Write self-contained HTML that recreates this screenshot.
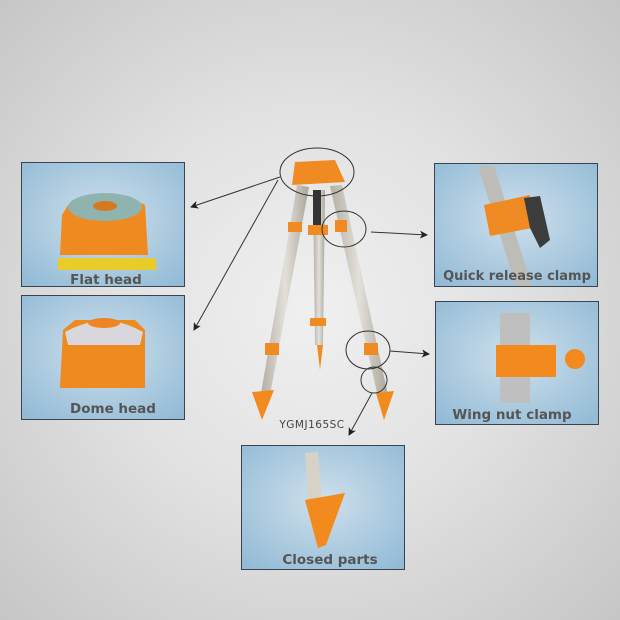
<!DOCTYPE html>
<html><head><style>
html,body{margin:0;padding:0;}
body{width:620px;height:620px;overflow:hidden;background:radial-gradient(ellipse at 50% 50%,#f0f0f0 0%,#e2e2e2 45%,#c6c6c6 100%);}
svg{display:block}
text{font-family:"DejaVu Sans","Liberation Sans",sans-serif;font-weight:bold;fill:#555}
</style></head><body>
<svg width="620" height="620" viewBox="0 0 620 620">
<defs>
<radialGradient id="pb" cx="50%" cy="45%" r="70%">
<stop offset="0" stop-color="#cfe0ec"/><stop offset="1" stop-color="#93bbd6"/></radialGradient>
<marker id="ar" markerWidth="8" markerHeight="8" refX="7" refY="4" orient="auto"><path d="M0,0 L8,4 L0,8 L2,4z" fill="#222"/></marker>
<linearGradient id="lg" x1="0" x2="1"><stop offset="0" stop-color="#b3afa4"/><stop offset=".5" stop-color="#e2e0d8"/><stop offset="1" stop-color="#a9a59a"/></linearGradient>
</defs>
<rect x="21.5" y="162.5" width="163" height="124" fill="url(#pb)" stroke="#3a4450"/>
<rect x="21.5" y="295.5" width="163" height="124" fill="url(#pb)" stroke="#3a4450"/>
<rect x="434.5" y="163.5" width="163" height="123" fill="url(#pb)" stroke="#3a4450"/>
<rect x="435.5" y="301.5" width="163" height="123" fill="url(#pb)" stroke="#3a4450"/>
<rect x="241.5" y="445.5" width="163" height="124" fill="url(#pb)" stroke="#3a4450"/>
<!-- flat head -->
<path d="M58,258 L58,270 L157,270 L155,258z" fill="#e8cc2a"/>
<path d="M68,205 Q108,185 145,205 L148,255 L60,255 L62,215z" fill="#ef8a20"/>
<ellipse cx="105" cy="207" rx="37" ry="14" fill="#8fb4b0"/>
<ellipse cx="105" cy="206" rx="12" ry="5" fill="#d67a22"/>
<!-- dome head -->
<path d="M63,330 L75,320 L135,320 L145,330 L145,388 L60,388z" fill="#ef8a20"/>
<path d="M65,332 Q105,310 143,332 L140,345 L68,345z" fill="#d8d8dc"/>
<ellipse cx="104" cy="323" rx="16" ry="5" fill="#ee8424"/>
<!-- quick release -->
<path d="M478,166 L494,166 L532,286 L516,286z" fill="#bebcb6"/>
<path d="M484,205 L530,195 L532,228 L490,236z" fill="#f08a22"/>
<path d="M524,198 L540,196 L550,240 L540,248 L530,228z" fill="#3c3c3c"/>
<!-- wing nut -->
<rect x="500" y="313" width="30" height="90" fill="#bfbfbf"/>
<rect x="496" y="345" width="60" height="32" fill="#f28a1e"/>
<circle cx="575" cy="359" r="10" fill="#f28a1e"/>
<!-- closed parts -->
<path d="M305,453 L318,452 L322,500 L308,502z" fill="#d6d2c8"/>
<path d="M305,500 L345,493 L326,545 L318,548z" fill="#f28a1e"/>
<!-- tripod -->
<path d="M297,185 L309,187 L270,395 L261,393z" fill="url(#lg)"/>
<path d="M313,190 L325,190 L323,345 L315,345z" fill="url(#lg)"/>
<path d="M330,186 L342,185 L388,395 L378,397z" fill="url(#lg)"/>
<path d="M295,162 L335,160 L345,182 L292,185z" fill="#f08a22"/>
<rect x="313" y="190" width="8" height="40" fill="#333"/>
<rect x="308" y="225" width="20" height="10" fill="#f08a22"/>
<rect x="288" y="222" width="14" height="10" fill="#f08a22"/>
<rect x="335" y="220" width="12" height="12" fill="#f08a22"/>
<rect x="310" y="318" width="16" height="8" fill="#f08a22"/>
<path d="M317,345 L323,345 L320,370z" fill="#f08a22"/>
<rect x="265" y="343" width="14" height="12" fill="#f08a22"/>
<rect x="364" y="343" width="14" height="12" fill="#f08a22"/>
<path d="M252,392 L274,390 L262,420z" fill="#f28a1e"/>
<path d="M376,393 L394,391 L384,420z" fill="#f28a1e"/>
<g fill="none" stroke="#333" stroke-width="1">
<ellipse cx="317" cy="172" rx="37" ry="24"/>
<ellipse cx="344" cy="229" rx="22" ry="18"/>
<ellipse cx="368" cy="350" rx="22" ry="19"/>
<ellipse cx="374" cy="380" rx="13" ry="13"/>
</g>
<g stroke="#333" stroke-width="1" fill="none" marker-end="url(#ar)">
<line x1="280" y1="177" x2="191" y2="207"/>
<line x1="278" y1="180" x2="194" y2="330"/>
<line x1="371" y1="232" x2="427" y2="235"/>
<line x1="390" y1="351" x2="429" y2="354"/>
<line x1="372" y1="393" x2="349" y2="435"/>
</g>
<text x="106" y="284" font-size="13.5" text-anchor="middle">Flat head</text>
<text x="113" y="413" font-size="13.5" text-anchor="middle">Dome  head</text>
<text x="517" y="280" font-size="13" text-anchor="middle">Quick release clamp</text>
<text x="512" y="419" font-size="13.5" text-anchor="middle">Wing nut clamp</text>
<text x="330" y="564" font-size="13.5" text-anchor="middle">Closed parts</text>
<text x="312" y="428" font-size="10.5" text-anchor="middle" style="font-weight:normal;fill:#444" letter-spacing="0.5">YGMJ165SC</text>
</svg>
</body></html>
